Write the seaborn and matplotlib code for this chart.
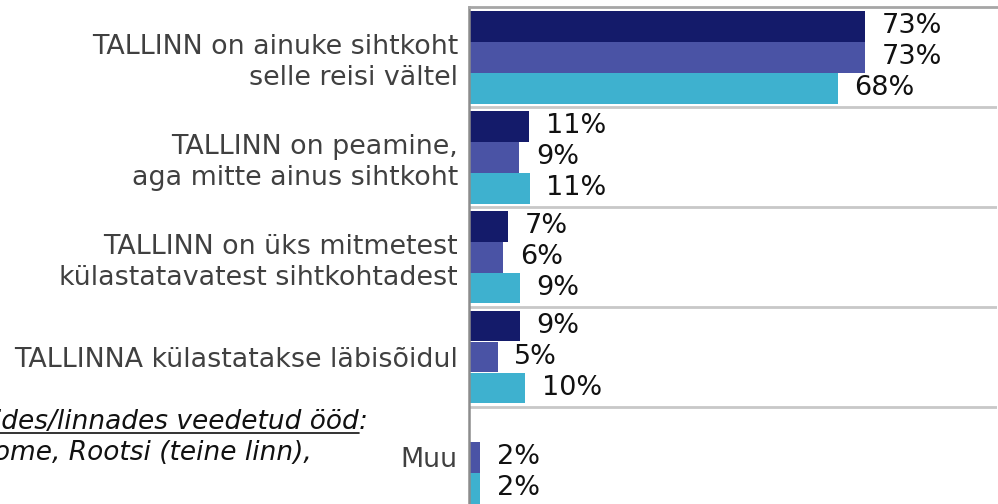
import numpy as np
import pandas as pd
import matplotlib
matplotlib.use('Agg')
import matplotlib.pyplot as plt
import seaborn as sns
from matplotlib.lines import Line2D

# data
categories = ["TALLINN on ainuke sihtkoht\nselle reisi vältel",
              "TALLINN on peamine,\naga mitte ainus sihtkoht",
              "TALLINN on üks mitmetest\nkülastatavatest sihtkohtadest",
              "TALLINNA külastatakse läbisõidul",
              "Muu"]
series_names = ["I", "II", "III"]
values_1 = [73, 11.1, 7.2, 9.4, 0]
values_2 = [73, 9.3, 6.3, 5.3, 2.1]
values_3 = [68, 11.2, 9.4, 10.3, 2.1]
colors = ["#141B6A", "#4A53A5", "#3EB1CF"]

rows = []
for name, vals in zip(series_names, [values_1, values_2, values_3]):
    for cat, v in zip(categories, vals):
        rows.append({"category": cat, "series": name, "value": v})
df = pd.DataFrame(rows)

sns.set_style("white")
plt.rcParams['font.family'] = ['DejaVu Sans']

W, H = 998, 504
fig = plt.figure(figsize=(W / 100, H / 100), dpi=100)
# axes sticks out a little below the figure, like the cropped original
ax = fig.add_axes([469 / W, -3 / H, 528 / W, 500 / H])

sns.barplot(data=df, y="category", x="value", hue="series", order=categories,
            hue_order=series_names, palette=colors, orient="h", width=0.93,
            saturation=1, legend=False, ax=ax, linewidth=0)

ax.set_xlim(0, 97.4)
ax.set_ylim(4.5, -0.5)
ax.set_xlabel("")
ax.set_ylabel("")
ax.set_xticks([])
ax.tick_params(axis='y', length=0, pad=8, labelsize=19.4, labelcolor="#404040")
for lab in ax.get_yticklabels():
    lab.set_linespacing(1.25)

for s in ["right", "bottom"]:
    ax.spines[s].set_visible(False)
ax.spines["left"].set_color("#8c8c8c")
ax.spines["left"].set_linewidth(1.8)
ax.spines["top"].set_color("#a6a6a6")
ax.spines["top"].set_linewidth(2)

for yy in [0.5, 1.5, 2.5, 3.5]:
    ax.axhline(yy, color="#c8c8c8", lw=2, zorder=0)

for cont, vals in zip(ax.containers, [values_1, values_2, values_3]):
    labels = [f"{round(v)}%" if v > 0 else "" for v in vals]
    ax.bar_label(cont, labels=labels, padding=12, fontsize=19.5, color="#111111")

# cut-off note on the left
t1 = fig.text(359 / W, 1 - 429 / H, "Teistes riikides/linnades veedetud ööd",
              ha="right", va="baseline", style="italic", fontsize=19, color="#111111")
fig.text(359 / W, 1 - 429 / H, ":", ha="left", va="baseline", style="italic",
         fontsize=19, color="#111111")
fig.text(312 / W, 1 - 460 / H, "Soome, Rootsi (teine linn),", ha="right",
         va="baseline", style="italic", fontsize=19, color="#111111")

fig.canvas.draw()
bb = t1.get_window_extent(fig.canvas.get_renderer())
uy = (bb.y0 + 2) / H
fig.add_artist(Line2D([bb.x0 / W, bb.x1 / W], [uy, uy], transform=fig.transFigure,
                      color="#111111", lw=1.2))

fig.savefig("out.png", dpi=100)
